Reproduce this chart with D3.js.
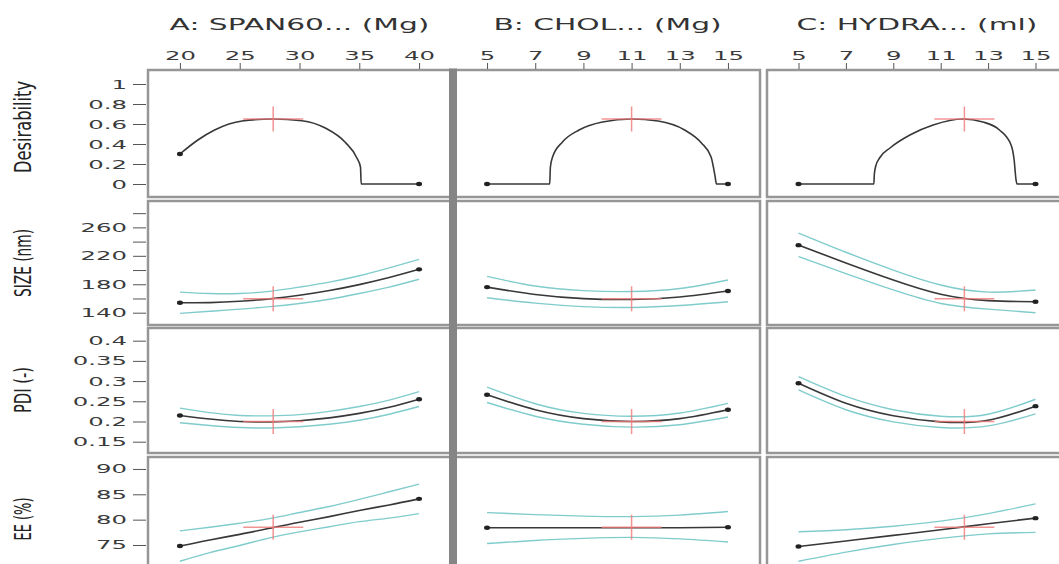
<!DOCTYPE html>
<html>
<head>
<meta charset="utf-8">
<script src="https://cdn.jsdelivr.net/npm/d3@7"></script>
<style>
  body { margin: 0; background: #fff; }
  text { font-family: "DejaVu Sans", sans-serif; }
</style>
</head>
<body>
<div id="chart"></div>
<script>
// factor / response names
const factors = ["A: SPAN60... (Mg)", "B: CHOL... (Mg)", "C: HYDRA... (ml)"];
const responses = ["Desirability", "SIZE (nm)", "PDI (-)", "EE (%)"];

// axis ticks
const xTicksA = [20, 25, 30, 35, 40];
const xTicksBC = [5, 7, 9, 11, 13, 15];
const desTicks = [0, 0.2, 0.4, 0.6, 0.8, 1];
const sizeTicks = [140, 160, 180, 200, 220, 240, 260, 280];
const sizeLabels = [140, 180, 220, 260];
const pdiTicks = [0.15, 0.2, 0.25, 0.3, 0.35, 0.4];
const eeTicks = [70, 75, 80, 85, 90];

// current factor settings and predicted responses (red crosshair)
const current = [27.8, 11, 12];
const predicted = [0.65, 159.5, 0.2, 78.5];

// axis ranges
const factorDomains = [[17.33, 42.67], [3.67, 16.33], [3.67, 16.33]];
const responseDomains = [[-0.13, 1.14], [122.7, 297.1], [0.122, 0.4314], [67.7, 92.36]];

// desirability traces
const desA_x = [20, 21.5, 22.9, 25.2, 27.8, 30.2, 32.2, 33.8, 34.8, 35.1, 35.16, 40];
const desA_y = [0.30, 0.44, 0.54, 0.63, 0.65, 0.633, 0.557, 0.42, 0.26, 0.17, 0, 0];
const desB_x = [5, 7.6, 7.63, 7.72, 8.13, 8.82, 9.79, 11, 12.1, 13.2, 13.9, 14.3, 14.47, 14.52, 15];
const desB_y = [0, 0, 0.17, 0.27, 0.42, 0.54, 0.62, 0.65, 0.63, 0.54, 0.41, 0.27, 0.07, 0, 0];
const desC_x = [5, 8.18, 8.2, 8.26, 8.42, 8.86, 9.7, 10.68, 11.94, 12.78, 13.48, 13.97, 14.1, 14.18, 14.22, 15];
const desC_y = [0, 0, 0.1, 0.18, 0.26, 0.36, 0.49, 0.59, 0.65, 0.62, 0.54, 0.39, 0.24, 0.04, 0, 0];

// response traces
const gridA = [20, 22.5, 25, 27.5, 30, 32.5, 35, 37.5, 40];
const gridBC = [5, 7, 9, 11, 13, 15];

const sizeA_mean = [154, 154.2, 156, 159.4, 164.5, 171.2, 179.5, 189.4, 201];
const sizeA_hi = [169, 167, 167, 170, 176, 183, 192, 203, 215];
const sizeA_lo = [139, 142, 145, 148.5, 153, 159, 167, 176, 187];
const sizeB_mean = [176, 165.6, 159.8, 158.6, 162.1, 170.5];
const sizeB_hi = [191, 177.5, 171, 169.8, 174, 186];
const sizeB_lo = [161, 153.5, 148.6, 147.4, 150.2, 155.5];
const sizeC_mean = [235, 210, 186, 166, 157, 155.5];
const sizeC_hi = [252, 225, 200, 179, 169, 172];
const sizeC_lo = [219, 195, 172, 153, 145, 140];

const pdiA_mean = [0.215, 0.206, 0.200, 0.199, 0.202, 0.209, 0.220, 0.235, 0.255];
const pdiA_hi = [0.233, 0.222, 0.215, 0.214, 0.217, 0.225, 0.237, 0.253, 0.274];
const pdiA_lo = [0.197, 0.190, 0.185, 0.184, 0.187, 0.193, 0.203, 0.218, 0.237];
const pdiB_mean = [0.266, 0.229, 0.207, 0.200, 0.207, 0.229];
const pdiB_hi = [0.285, 0.244, 0.220, 0.213, 0.221, 0.245];
const pdiB_lo = [0.247, 0.213, 0.193, 0.186, 0.192, 0.211];
const pdiC_mean = [0.2945, 0.245, 0.214, 0.199, 0.203, 0.238];
const pdiC_hi = [0.311, 0.262, 0.229, 0.213, 0.218, 0.255];
const pdiC_lo = [0.278, 0.229, 0.199, 0.185, 0.189, 0.219];

const eeA_mean = [74.8, 76.0, 77.1, 78.3, 79.5, 80.6, 81.8, 82.9, 84.1];
const eeA_hi = [77.8, 78.5, 79.3, 80.2, 81.4, 82.6, 84.0, 85.5, 87.0];
const eeA_lo = [71.8, 73.5, 74.9, 76.4, 77.6, 78.6, 79.6, 80.3, 81.2];
const eeB_mean = [78.4, 78.4, 78.4, 78.4, 78.4, 78.5];
const eeB_hi = [81.4, 81.0, 80.7, 80.6, 80.9, 81.6];
const eeB_lo = [75.3, 75.9, 76.3, 76.5, 76.2, 75.6];
const eeC_mean = [74.7, 75.8, 76.9, 78.0, 79.2, 80.3];
const eeC_hi = [77.6, 78.0, 78.7, 79.7, 81.2, 83.1];
const eeC_lo = [71.8, 73.6, 75.1, 76.3, 77.2, 77.5];

const curves = [
    [{ x: desA_x, y: desA_y }, { x: desB_x, y: desB_y }, { x: desC_x, y: desC_y }],
    [{ x: gridA, y: sizeA_mean, lo: sizeA_lo, hi: sizeA_hi },
     { x: gridBC, y: sizeB_mean, lo: sizeB_lo, hi: sizeB_hi },
     { x: gridBC, y: sizeC_mean, lo: sizeC_lo, hi: sizeC_hi }],
    [{ x: gridA, y: pdiA_mean, lo: pdiA_lo, hi: pdiA_hi },
     { x: gridBC, y: pdiB_mean, lo: pdiB_lo, hi: pdiB_hi },
     { x: gridBC, y: pdiC_mean, lo: pdiC_lo, hi: pdiC_hi }],
    [{ x: gridA, y: eeA_mean, lo: eeA_lo, hi: eeA_hi },
     { x: gridBC, y: eeB_mean, lo: eeB_lo, hi: eeB_hi },
     { x: gridBC, y: eeC_mean, lo: eeC_lo, hi: eeC_hi }]
];

// layout
const width = 1059, height = 564;
const colX = [[148, 451], [455, 760], [767, 1067]];
const rowY = [[70, 197], [201, 325], [328, 453], [457, 582]];
const titleY = [127, 263, 390, 519];

const svg = d3.select("#chart").append("svg")
    .attr("width", width)
    .attr("height", height);

const xScales = factorDomains.map((d, i) => d3.scaleLinear().domain(d).range(colX[i]));
const yScales = responseDomains.map((d, i) => d3.scaleLinear().domain(d).range([rowY[i][1], rowY[i][0]]));

// cell frames
rowY.forEach(ry => {
    colX.forEach(cx => {
        svg.append("rect")
            .attr("x", cx[0]).attr("y", ry[0])
            .attr("width", cx[1] - cx[0]).attr("height", ry[1] - ry[0])
            .attr("fill", "#fff")
            .attr("stroke", "#969696")
            .attr("stroke-width", 2.5);
    });
});

// heavy divider between A and B
svg.append("rect")
    .attr("x", 449).attr("y", 68.5)
    .attr("width", 8).attr("height", height)
    .attr("fill", "#858585");

function stretch(g, sx, dx) {
    g.selectAll(".tick text")
        .attr("x", 0)
        .attr("transform", `translate(${dx},0) scale(${sx},1)`);
}

// top axes + factor titles
factors.forEach((name, i) => {
    const g = svg.append("g")
        .attr("transform", `translate(0,${rowY[0][0] - 1})`)
        .call(d3.axisTop(xScales[i]).tickValues(i === 0 ? xTicksA : xTicksBC).tickSize(6).tickPadding(3));
    g.select(".domain").remove();
    g.selectAll(".tick line").attr("stroke", "#555");
    g.selectAll(".tick text")
        .attr("fill", "#3a3a3a")
        .style("font-family", '"DejaVu Sans", sans-serif')
        .style("font-size", "12.5px");
    stretch(g, 1.95, 0);

    const cx = (colX[i][0] + colX[i][1]) / 2;
    svg.append("text")
        .attr("transform", `translate(${cx},30) scale(1.8,1)`)
        .attr("text-anchor", "middle")
        .attr("fill", "#333")
        .style("font-size", "16.5px")
        .text(name);
});

// left axes + response titles
const yTicks = [desTicks, sizeTicks, pdiTicks, eeTicks];
const titleLen = [92, 68, 46, 43];
responses.forEach((name, r) => {
    let fmt = d => String(d);
    if (r === 1) fmt = d => sizeLabels.includes(d) ? String(d) : "";
    const g = svg.append("g")
        .attr("transform", "translate(146,0)")
        .call(d3.axisLeft(yScales[r]).tickValues(yTicks[r]).tickFormat(fmt).tickSize(13).tickPadding(6));
    g.select(".domain").remove();
    g.selectAll(".tick line").attr("stroke", "#555");
    g.selectAll(".tick text")
        .attr("fill", "#3a3a3a")
        .style("font-family", '"DejaVu Sans", sans-serif')
        .style("font-size", "12.5px");
    stretch(g, 1.95, -19);

    svg.append("text")
        .attr("transform", `translate(23,${titleY[r]}) scale(1.45,1) rotate(-90)`)
        .attr("text-anchor", "middle")
        .attr("dominant-baseline", "central")
        .attr("fill", "#222")
        .attr("textLength", titleLen[r])
        .attr("lengthAdjust", "spacingAndGlyphs")
        .style("font-size", "16px")
        .text(name);
});

// curves
curves.forEach((row, r) => {
    const y = yScales[r];
    row.forEach((c, i) => {
        const x = xScales[i];
        const line = d3.line()
            .x(d => x(d[0]))
            .y(d => y(d[1]))
            .curve(r === 0 ? d3.curveMonotoneX : d3.curveNatural);

        if (c.lo) {
            [c.lo, c.hi].forEach(band => {
                svg.append("path")
                    .datum(c.x.map((v, k) => [v, band[k]]))
                    .attr("fill", "none")
                    .attr("stroke", "#80cccc")
                    .attr("stroke-width", 1.4)
                    .attr("d", line);
            });
        }

        const pts = c.x.map((v, k) => [v, c.y[k]]);
        svg.append("path")
            .datum(pts)
            .attr("fill", "none")
            .attr("stroke", "#383838")
            .attr("stroke-width", 1.6)
            .attr("d", line);

        // crosshair at current setting
        const px = x(current[i]), py = y(predicted[r]);
        svg.append("line")
            .attr("x1", px - 30).attr("x2", px + 30)
            .attr("y1", py).attr("y2", py)
            .attr("stroke", "#f07a7a").attr("stroke-width", 1.5).attr("opacity", 0.8);
        svg.append("line")
            .attr("x1", px).attr("x2", px)
            .attr("y1", py - 12.5).attr("y2", py + 12.5)
            .attr("stroke", "#f07a7a").attr("stroke-width", 1.5).attr("opacity", 0.8);

        svg.selectAll(null)
            .data([pts[0], pts[pts.length - 1]])
            .enter().append("ellipse")
            .attr("cx", d => x(d[0]))
            .attr("cy", d => y(d[1]))
            .attr("rx", 3).attr("ry", 2.2)
            .attr("fill", "#222");
    });
});
</script>
</body>
</html>
